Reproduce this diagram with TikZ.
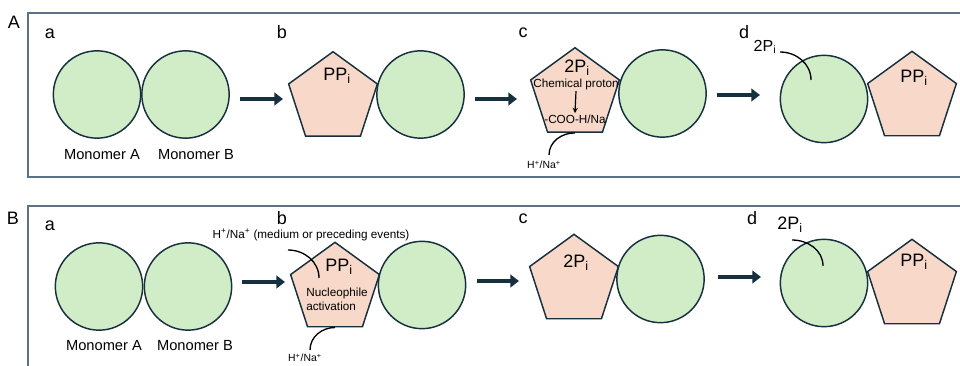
\documentclass[tikz,border=0pt]{standalone}
\usepackage{fontspec}
\setmainfont{Liberation Sans}
\usetikzlibrary{shapes.geometric,arrows.meta}
\definecolor{monofill}{HTML}{D0EDC8}
\definecolor{ppfill}{HTML}{F8D9C9}
\definecolor{edgeblue}{HTML}{16303F}
\definecolor{framegray}{HTML}{5B7282}

\begin{document}
\begin{tikzpicture}[
    x=0.75pt, y=-0.75pt,
    mono/.style={circle, draw=edgeblue, fill=monofill, line width=1.1pt,
                 minimum size=65.5pt, inner sep=0pt},
    pyro/.style={regular polygon, regular polygon sides=5, draw=edgeblue,
                 fill=ppfill, line width=1.1pt, minimum size=70pt, inner sep=0pt},
    panel/.style={draw=framegray, line width=1.4pt},
    tag/.style={font=\fontsize{13.5}{15}\selectfont, inner sep=0pt},
    sublbl/.style={font=\fontsize{13.5}{15}\selectfont, inner sep=0pt},
    monolbl/.style={font=\fontsize{11}{13}\selectfont, inner sep=0pt},
    pplbl/.style={font=\fontsize{13.5}{15}\selectfont, inner sep=0pt},
    small/.style={font=\fontsize{8.8}{10.5}\selectfont, inner sep=1pt},
    tiny/.style={font=\fontsize{7.8}{9}\selectfont, inner sep=0pt},
    arr/.style={-{Triangle[length=6.5pt,width=9.5pt]}, line width=3.2pt, draw=edgeblue},
    link/.style={line width=1pt}
  ]
    \useasboundingbox (0,0) rectangle (960,366);

    % panel frames
    \draw[panel] (28,13) rectangle (975,177);
    \draw[panel] (28,206) rectangle (975,380);
    \node[tag] (labA) at (14,22)  {A};
    \node[tag] (labB) at (13,218) {B};

    % ---- panel A ----
    \node[sublbl] (Aa) at (50,34)  {a};
    \node[sublbl] (Ab) at (282,32) {b};
    \node[sublbl] (Ac) at (523,33) {c};
    \node[sublbl] (Ad) at (744,32) {d};

    \node[mono] (Aa1) at (97,94.5)    {};
    \node[mono] (Aa2) at (185.5,94.5) {};
    \node[monolbl] (AmA) at (102,155) {Monomer A};
    \node[monolbl] (AmB) at (196,155) {Monomer B};

    \node[pyro] (Abp) at (333,98.4)   {};
    \node[mono] (Abc) at (420.5,94.5) {};
    \node[pplbl] (AbPP) at (337,76)   {PP\textsubscript{i}};

    \node[pyro] (Acp) at (575,94.4)   {};
    \node[mono] (Acc) at (662.5,93.5) {};
    \node[pplbl] (AcP) at (577,68)    {2P\textsubscript{i}};
    \node[small] (chem) at (576,84)   {Chemical proton};
    \node[small] (coo)  at (575,119)  {-COO-H/Na};
    \node[tiny]  (AcH)  at (544,165)  {H\textsuperscript{+}/Na\textsuperscript{+}};
    \coordinate (AcHe) at (549,155);

    \node[mono] (Adc) at (824,99)     {};
    \node[pyro] (Adp) at (912,98)     {};
    \node[pplbl] (AdPP) at (914,78)   {PP\textsubscript{i}};
    \node[pplbl, font=\fontsize{12}{14}\selectfont] (AdP) at (765,47) {2P\textsubscript{i}};
    \coordinate (AdS) at (780,52);
    \coordinate (AdE) at (811,80);

    \coordinate (A1s) at (240,99);  \coordinate (A1e) at (283,99);
    \coordinate (A2s) at (475,99);  \coordinate (A2e) at (517,99);
    \coordinate (A3s) at (717,95);  \coordinate (A3e) at (760,95);
    \draw[arr] (A1s) -- (A1e);
    \draw[arr] (A2s) -- (A2e);
    \draw[arr] (A3s) -- (A3e);

    \draw[-{Stealth[length=4pt,width=4pt]}, line width=0.9pt] (chem.south) -- (coo.north);
    \draw[link] (Acp.south) to[out=180,in=90] (AcHe);
    \draw[link] (AdS) to[out=0,in=90] (AdE);

    % ---- panel B ----
    \node[sublbl] (Ba) at (50,226)  {a};
    \node[sublbl] (Bb) at (282,218) {b};
    \node[sublbl] (Bc) at (523,219) {c};
    \node[sublbl] (Bd) at (752,218) {d};

    \node[mono] (Ba1) at (99,286.5)  {};
    \node[mono] (Ba2) at (188,286.5) {};
    \node[monolbl] (BmA) at (104,346) {Monomer A};
    \node[monolbl] (BmB) at (195,346) {Monomer B};

    \node[pyro] (Bbp) at (335,289)   {};
    \node[mono] (Bbc) at (422,285)   {};
    \node[pplbl] (BbPP) at (339,267) {PP\textsubscript{i}};
    \node[small, align=left] (nuc) at (337,299.5) {Nucleophile\\activation};
    \node[small, inner sep=0pt] (med) at (311,235)
      {H\textsuperscript{+}/Na\textsuperscript{+} (medium or preceding events)};
    \node[tiny] (BbH) at (305,358) {H\textsuperscript{+}/Na\textsuperscript{+}};
    \coordinate (BbS) at (288,250);
    \coordinate (BbE) at (319,278);
    \coordinate (BbHe) at (310,350);

    \node[pyro] (Bcp) at (574,281)   {};
    \node[mono] (Bcc) at (660.5,279) {};
    \node[pplbl] (BcP) at (576,263)  {2P\textsubscript{i}};

    \node[mono] (Bdc) at (824,283)   {};
    \node[pyro] (Bdp) at (912,286)   {};
    \node[pplbl] (BdPP) at (914,262) {PP\textsubscript{i}};
    \node[pplbl] (BdP) at (790,225)  {2P\textsubscript{i}};
    \coordinate (BdS) at (792,240);
    \coordinate (BdE) at (823,266);

    \coordinate (B1s) at (242,282); \coordinate (B1e) at (285,282);
    \coordinate (B2s) at (477,281); \coordinate (B2e) at (519,281);
    \coordinate (B3s) at (718,277); \coordinate (B3e) at (761,277);
    \draw[arr] (B1s) -- (B1e);
    \draw[arr] (B2s) -- (B2e);
    \draw[arr] (B3s) -- (B3e);

    \draw[link] (BbS) to[out=0,in=90] (BbE);
    \draw[link] (Bbp.south) to[out=180,in=90] (BbHe);
    \draw[link] (BdS) to[out=0,in=90] (BdE);
  \end{tikzpicture}
\end{document}
